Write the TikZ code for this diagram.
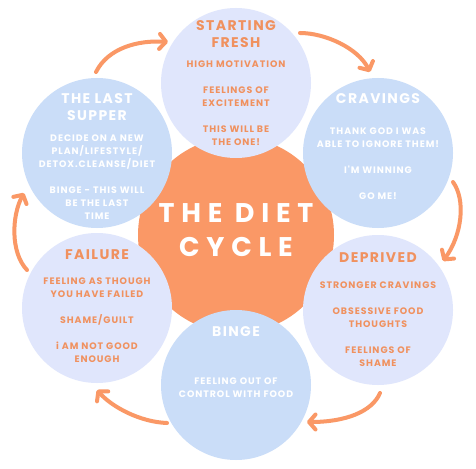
\documentclass[tikz,border=0pt]{standalone}
\usepackage{fontspec}
\setmainfont{Poppins}
\newfontfamily\bodyf{Poppins}[LetterSpace=10]
\newfontfamily\headf{Poppins}[LetterSpace=10]
\newfontfamily\titlef{Poppins}[LetterSpace=25]
\usetikzlibrary{arrows.meta}
\definecolor{orng}{RGB}{250,152,102}
\definecolor{otext}{RGB}{240,145,95}
\definecolor{lav}{RGB}{224,230,252}
\definecolor{lblue}{RGB}{202,221,248}
\tikzset{
  bub/.style={circle, minimum size=150pt, inner sep=0pt},
  headtxt/.style={align=center, inner sep=0pt, font=\headf\bfseries\fontsize{14}{17}\selectfont},
  bodytxt/.style={align=center, inner sep=0pt, font=\bodyf\bfseries\fontsize{9.4}{13}\selectfont},
  cyc/.style={draw=orng, line width=4pt, line cap=round, -{Straight Barb[length=6.5pt,width=15pt,round]}}
}
\begin{document}
\begin{tikzpicture}[x=1pt,y=-1pt]
\useasboundingbox (0,0) rectangle (476,468);
\fill[white] (0,0) rectangle (476,468);
\node[circle, minimum size=196pt, inner sep=0pt, fill=orng] (mid) at (236,235) {};
\node[bub, fill=lav] (sf) at (236,83) {};
\node[bub, fill=lblue] (cr) at (378,153) {};
\node[bub, fill=lav] (de) at (378,310) {};
\node[bub, fill=lblue] (bi) at (236,385) {};
\node[bub, fill=lav] (fa) at (97,308) {};
\node[bub, fill=lblue] (ls) at (97,153) {};

\node[align=center, inner sep=0pt, text=white, font=\titlef\bfseries\fontsize{27}{34}\selectfont] (title) at (236,230) {THE DIET\\CYCLE};

\node[headtxt, text=otext] (sfh) at (236,34.5) {STARTING\\FRESH};
\node[bodytxt, text=otext] (sfb) at (236,103) {HIGH MOTIVATION\\[13pt] FEELINGS OF\\ EXCITEMENT\\[13pt] THIS WILL BE\\ THE ONE!};

\node[headtxt, text=white] (crh) at (378,99) {CRAVINGS};
\node[bodytxt, text=white] (crb) at (378,163.5) {THANK GOD I WAS\\ ABLE TO IGNORE THEM!\\[13pt] I'M WINNING\\[13pt] GO ME!};

\node[headtxt, text=otext] (deh) at (378,258) {DEPRIVED};
\node[bodytxt, text=otext] (deb) at (378,324) {STRONGER CRAVINGS\\[13pt] OBSESSIVE FOOD\\ THOUGHTS\\[13pt] FEELINGS OF\\ SHAME};

\node[headtxt, text=white] (bih) at (236,332) {BINGE};
\node[bodytxt, text=white] (bib) at (236,387.5) {FEELING OUT OF\\ CONTROL WITH FOOD};

\node[headtxt, text=otext] (fah) at (97,255) {FAILURE};
\node[bodytxt, text=otext] (fab) at (97,320) {FEELING AS THOUGH\\ YOU HAVE FAILED\\[13pt] SHAME/GUILT\\[13pt] i AM NOT GOOD\\ ENOUGH};

\node[headtxt, text=white] (lsh) at (97,107.5) {THE LAST\\SUPPER};
\node[bodytxt, text=white] (lsb) at (97,177) {DECIDE ON A NEW\\ PLAN/LIFESTYLE/\\ DETOX.CLEANSE/DIET\\[13pt] BINGE - THIS WILL\\ BE THE LAST\\ TIME};

\coordinate (a1s) at (96,72);   \coordinate (a1e) at (168,42);
\coordinate (a2s) at (300,33);  \coordinate (a2e) at (370,72);
\coordinate (a3s) at (453,182); \coordinate (a3e) at (443,261);
\coordinate (a4s) at (380,393); \coordinate (a4e) at (307,422);
\coordinate (a5s) at (167,423); \coordinate (a5e) at (97,390);
\coordinate (a6s) at (27,270);  \coordinate (a6e) at (24,193);

\draw[cyc] (a1s) .. controls (108,48) and (138,40) .. (a1e);
\draw[cyc] (a2s) .. controls (325,33) and (358,48) .. (a2e);
\draw[cyc] (a3s) .. controls (466,200) and (462,235) .. (a3e);
\draw[cyc] (a4s) .. controls (372,412) and (345,422) .. (a4e);
\draw[cyc] (a5s) .. controls (140,422) and (112,407) .. (a5e);
\draw[cyc] (a6s) .. controls (10,252) and (12,215) .. (a6e);
\end{tikzpicture}
\end{document}
